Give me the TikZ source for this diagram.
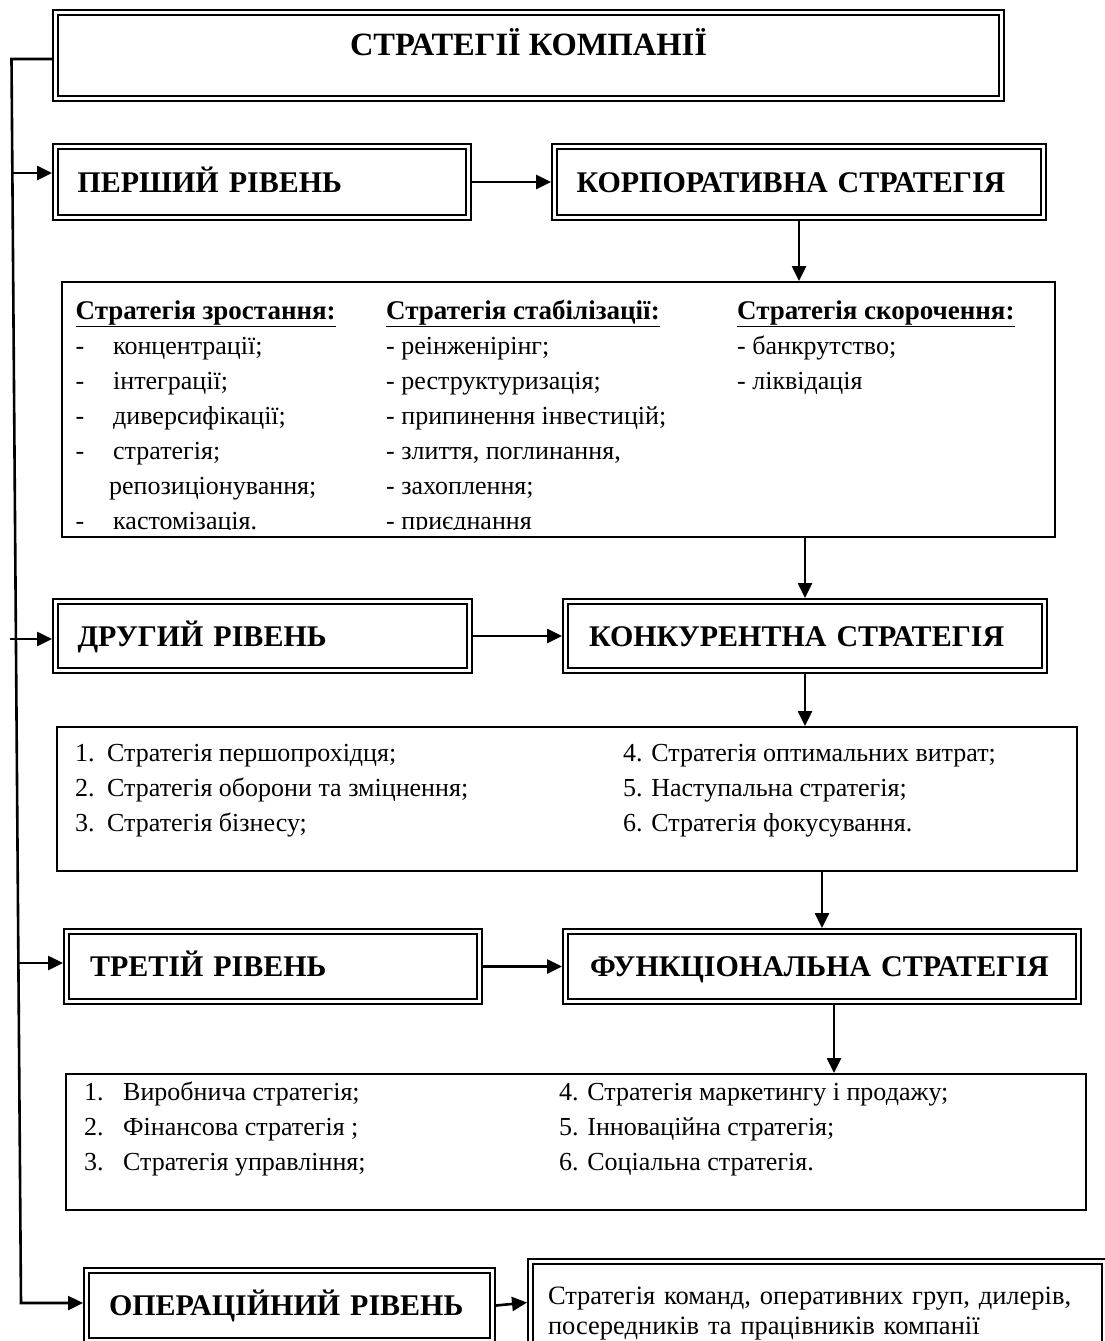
\documentclass[tikz,border=0pt]{standalone}
\usepackage{fontspec}
\IfFontExistsTF{LiberationSerif-Regular.ttf}{%
  \setmainfont{LiberationSerif}[Extension=.ttf, UprightFont=*-Regular, BoldFont=*-Bold, ItalicFont=*-Italic, BoldItalicFont=*-BoldItalic]}{%
  \setmainfont{Liberation Serif}}
\usetikzlibrary{arrows.meta, positioning, calc}
\newcommand{\headfont}{\fontsize{30}{32}\selectfont\bfseries}
\newcommand{\bodyfont}{\fontsize{26}{35}\selectfont}
\newcommand{\listhead}[1]{\underline{\fontsize{27}{35}\selectfont\textbf{#1}}}
\newcommand{\rows}[1]{\begin{tabular}[t]{@{}l@{}}#1\end{tabular}}
\tikzset{
    dblbox/.style={rectangle, draw, double, line width=2.2pt, double distance=2.4pt, outer sep=3.5pt},
    lvlbox/.style={dblbox, inner xsep=22pt, text height=23pt, text depth=3pt, font=\headfont, align=left},
    listbox/.style={rectangle, draw, line width=2pt, inner sep=0pt},
    listtext/.style={anchor=base west, font=\bodyfont, inner sep=0pt},
    arrow/.style={line width=2.6pt, -{Triangle[length=15pt,width=14pt]}}
}

\begin{document}
\begin{tikzpicture}[x=1pt, y=-1pt]
    \useasboundingbox (0,0) rectangle (1104,1341);

    \node (top) [lvlbox, minimum width=946pt, minimum height=86pt, align=center, inner xsep=0pt, font=\fontsize{32.5}{34}\selectfont\bfseries, text height=27pt, text depth=28pt] at (528.5,55.5) {СТРАТЕГІЇ КОМПАНІЇ};

    % first level
    \node (lvl1) [lvlbox, minimum height=71pt, text width=369pt] at (262,182) {ПЕРШИЙ РІВЕНЬ};
    \node (corp) [lvlbox, minimum height=71pt, text width=445pt] at (799,182) {КОРПОРАТИВНА СТРАТЕГІЯ};
    \node (corplist) [listbox, minimum width=993pt, minimum height=255pt] at (558.5,409.5) {};
    \begin{scope}
        \clip (corplist.north west) rectangle ($(corplist.south east)+(0,-9)$);
        \node (grow) [listtext] at (75.5,319) {\rows{\listhead{Стратегія зростання:}\\
            \makebox[37.5pt][l]{-}концентрації;\\
            \makebox[37.5pt][l]{-}інтеграції;\\
            \makebox[37.5pt][l]{-}диверсифікації;\\
            \makebox[37.5pt][l]{-}стратегія;\\
            \hspace*{33.5pt}репозиціонування;\\
            \makebox[37.5pt][l]{-}кастомізація.}};
        \node (stab) [listtext] at (386,319) {\rows{\listhead{Стратегія стабілізації:}\\
            - реінженірінг;\\
            - реструктуризація;\\
            - припинення інвестицій;\\
            - злиття, поглинання,\\
            - захоплення;\\
            - приєднання}};
        \node (shrink) [listtext] at (737,319) {\rows{\listhead{Стратегія скорочення:}\\
            - банкрутство;\\
            - ліквідація}};
    \end{scope}

    % second level
    \node (lvl2) [lvlbox, minimum height=69pt, text width=370pt] at (262.5,636) {ДРУГИЙ РІВЕНЬ};
    \node (comp) [lvlbox, minimum height=69pt, text width=432pt, inner xsep=23.5pt] at (805,636) {КОНКУРЕНТНА СТРАТЕГІЯ};
    \node (complist) [listbox, minimum width=1020pt, minimum height=144pt] at (567,799) {};
    \node (comp1) [listtext] at (75,761) {\rows{\makebox[32pt][l]{1.}Стратегія першопрохідця;\\
        \makebox[32pt][l]{2.}Стратегія оборони та зміцнення;\\
        \makebox[32pt][l]{3.}Стратегія бізнесу;}};
    \node (comp2) [listtext] at (623,761) {\rows{4. Стратегія оптимальних витрат;\\
        5. Наступальна стратегія;\\
        6. Стратегія фокусування.}};

    % third level
    \node (lvl3) [lvlbox, minimum height=70pt, text width=366pt, inner xsep=23.5pt] at (273,966.5) {ТРЕТІЙ РІВЕНЬ};
    \node (func) [lvlbox, minimum height=70pt, text width=464pt, inner xsep=24.5pt] at (822,966.5) {ФУНКЦІОНАЛЬНА СТРАТЕГІЯ};
    \node (funclist) [listbox, minimum width=1020pt, minimum height=136pt] at (576,1142) {};
    \node (func1) [listtext] at (84,1100) {\rows{\makebox[39pt][l]{1.}Виробнича стратегія;\\
        \makebox[39pt][l]{2.}Фінансова стратегія ;\\
        \makebox[39pt][l]{3.}Стратегія управління;}};
    \node (func2) [listtext] at (559,1100) {\rows{4. Стратегія маркетингу і продажу;\\
        5. Інноваційна стратегія;\\
        6. Соціальна стратегія.}};

    % operational level
    \node (lvl4) [lvlbox, minimum height=70pt, text width=361pt, inner xsep=22.5pt] at (289.5,1305.5) {ОПЕРАЦІЙНИЙ РІВЕНЬ};
    \node (opdesc) [dblbox, font=\fontsize{26.5}{30}\selectfont, align=left, inner xsep=17.5pt, text width=539pt, minimum height=105pt] at (817.5,1314) {Стратегія команд, оперативних груп, дилерів,\\ посередників та працівників компанії};

    % trunk on the left
    \coordinate (ttop) at (11.5,59);
    \coordinate (tbot) at (21,1303);
    \draw[arrow] (ttop -| top.west) -- (ttop) -- (tbot) -- (tbot -| lvl4.west);
    \coordinate (t1) at (12.3,173);
    \coordinate (t2) at (10,639);
    \coordinate (t3) at (18.4,963);
    \draw[arrow] (t1) -- (t1 -| lvl1.west);
    \draw[arrow] (t2) -- (t2 -| lvl2.west);
    \draw[arrow] (t3) -- (t3 -| lvl3.west);

    \draw[arrow] (lvl1) -- (corp);
    \draw[arrow] (lvl2) -- (comp);
    \draw[arrow] (lvl3) -- (func);
    \draw[arrow] (lvl4.east) -- ($(lvl4.east -| opdesc.west)+(0,-3)$);

    \draw[arrow] (corp.south) -- (corp.south |- corplist.north);
    \draw[arrow] (comp.north |- corplist.south) -- (comp.north);
    \draw[arrow] (comp.south) -- (comp.south |- complist.north);
    \draw[arrow] (func.north |- complist.south) -- (func.north);
    \draw[arrow] ($(func.south)+(12,0)$) -- ($(func.south |- funclist.north)+(12,0)$);
\end{tikzpicture}
\end{document}
